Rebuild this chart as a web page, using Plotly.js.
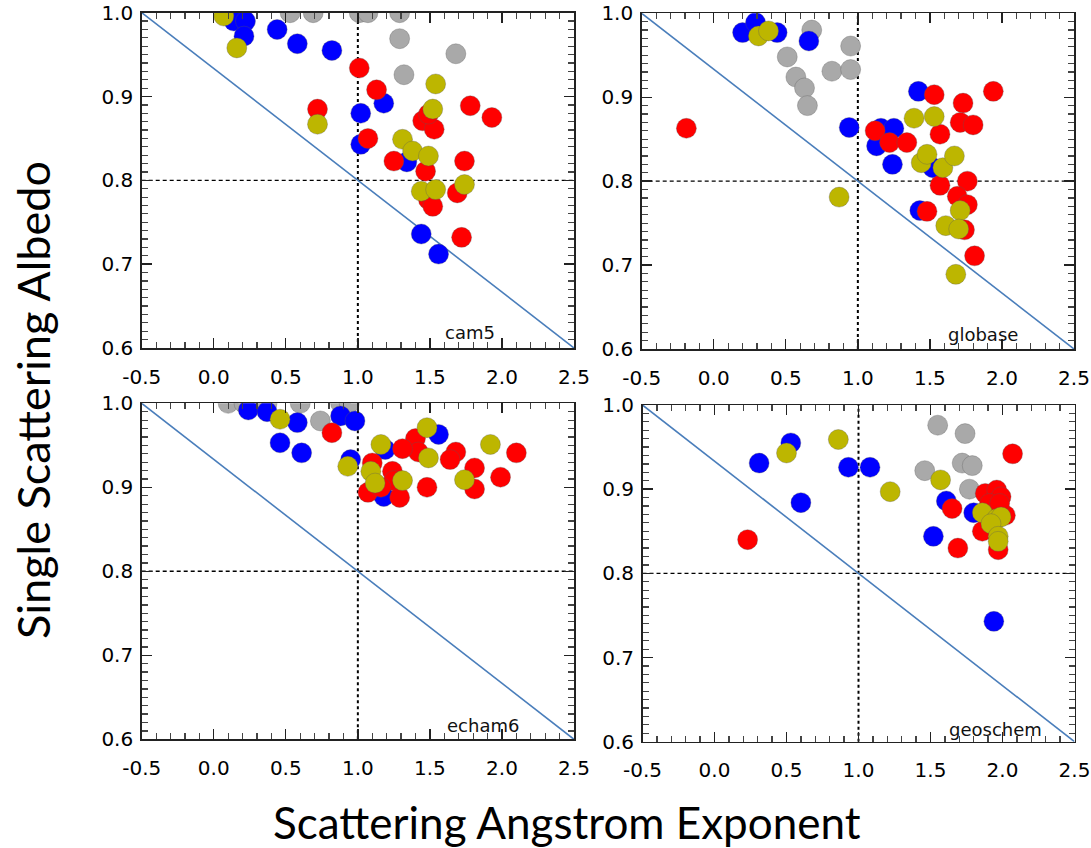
<!DOCTYPE html>
<html>
<head>
<meta charset="utf-8">
<script src="https://cdn.plot.ly/plotly-3.0.1.min.js"></script>
<style>
html,body{margin:0;padding:0;background:#fff;}
#chart{width:1091px;height:848px;}
</style>
</head>
<body>
<div id="chart"></div>
<script>
// ---------------- DATA ----------------
const panelNames = ["cam5", "globase", "echam6", "geoschem"];
const groupNames = ["gray", "blue", "red", "olive"];
const groupColors = ["#a9a9a9", "#0000ff", "#ff0000", "#bdb600"];

// cam5
const cam5_gray_x  = [0.53, 0.69, 1.01, 1.07, 1.29, 1.29, 1.68, 1.32];
const cam5_gray_y  = [1.000, 1.000, 1.000, 1.000, 1.000, 0.969, 0.951, 0.926];
const cam5_blue_x  = [0.14, 0.22, 0.21, 0.44, 0.58, 0.82, 1.02, 1.02, 1.18, 1.34, 1.44, 1.56];
const cam5_blue_y  = [0.990, 0.990, 0.972, 0.980, 0.963, 0.955, 0.880, 0.843, 0.892, 0.822, 0.736, 0.712];
const cam5_red_x   = [1.01, 1.13, 0.72, 1.07, 1.45, 1.53, 1.49, 1.78, 1.93, 1.25, 1.47, 1.74, 1.69, 1.49, 1.52, 1.72];
const cam5_red_y   = [0.934, 0.908, 0.885, 0.850, 0.871, 0.861, 0.879, 0.889, 0.875, 0.823, 0.811, 0.823, 0.785, 0.777, 0.769, 0.732];
const cam5_olive_x = [0.07, 0.16, 0.72, 1.54, 1.52, 1.31, 1.38, 1.49, 1.44, 1.54, 1.74];
const cam5_olive_y = [0.996, 0.958, 0.867, 0.915, 0.885, 0.849, 0.835, 0.829, 0.787, 0.789, 0.795];

// globase
const globase_gray_x  = [0.68, 0.95, 0.51, 0.57, 0.63, 0.65, 0.82, 0.95];
const globase_gray_y  = [0.980, 0.961, 0.948, 0.924, 0.911, 0.890, 0.931, 0.933];
const globase_blue_x  = [0.20, 0.29, 0.44, 0.66, 0.94, 1.42, 1.16, 1.25, 1.13, 1.24, 1.52, 1.43];
const globase_blue_y  = [0.977, 0.989, 0.977, 0.967, 0.864, 0.907, 0.863, 0.863, 0.842, 0.820, 0.816, 0.765];
const globase_red_x   = [-0.19, 1.53, 1.73, 1.94, 1.71, 1.80, 1.57, 1.12, 1.22, 1.34, 1.57, 1.76, 1.69, 1.76, 1.48, 1.74, 1.81];
const globase_red_y   = [0.863, 0.903, 0.893, 0.907, 0.870, 0.867, 0.856, 0.860, 0.846, 0.846, 0.795, 0.800, 0.782, 0.772, 0.764, 0.742, 0.711];
const globase_olive_x = [0.31, 0.38, 0.87, 1.39, 1.53, 1.44, 1.48, 1.59, 1.67, 1.71, 1.61, 1.70, 1.68];
const globase_olive_y = [0.973, 0.979, 0.781, 0.875, 0.877, 0.822, 0.832, 0.816, 0.830, 0.765, 0.747, 0.743, 0.689];

// echam6
const echam6_gray_x  = [0.10, 0.21, 0.37, 0.60, 0.88, 0.94, 0.74];
const echam6_gray_y  = [1.000, 1.000, 1.000, 1.000, 1.000, 1.000, 0.979];
const echam6_blue_x  = [0.24, 0.37, 0.58, 0.46, 0.61, 0.88, 0.98, 0.95, 1.56, 1.19, 1.18];
const echam6_blue_y  = [0.992, 0.990, 0.977, 0.953, 0.941, 0.985, 0.979, 0.933, 0.963, 0.945, 0.889];
const echam6_red_x   = [0.82, 1.40, 1.42, 1.31, 1.68, 1.64, 2.10, 1.10, 1.24, 1.25, 1.81, 1.99, 1.48, 1.07, 1.16, 1.29, 1.81];
const echam6_red_y   = [0.965, 0.958, 0.942, 0.946, 0.942, 0.933, 0.941, 0.929, 0.919, 0.908, 0.923, 0.912, 0.900, 0.894, 0.900, 0.888, 0.898];
const echam6_olive_x = [0.46, 1.48, 1.16, 1.49, 1.92, 0.93, 1.09, 1.12, 1.31, 1.74];
const echam6_olive_y = [0.981, 0.971, 0.951, 0.935, 0.951, 0.925, 0.919, 0.905, 0.908, 0.909];

// geoschem
const geoschem_gray_x  = [1.55, 1.74, 1.46, 1.72, 1.79, 1.77];
const geoschem_gray_y  = [0.976, 0.966, 0.922, 0.931, 0.928, 0.900];
const geoschem_blue_x  = [0.53, 0.31, 0.93, 1.08, 0.60, 1.61, 1.80, 1.52, 1.94];
const geoschem_blue_y  = [0.955, 0.931, 0.926, 0.926, 0.884, 0.886, 0.872, 0.844, 0.743];
const geoschem_red_x   = [0.23, 2.07, 1.88, 1.96, 1.99, 1.91, 2.02, 1.65, 1.86, 1.69, 1.97, 1.98];
const geoschem_red_y   = [0.840, 0.942, 0.895, 0.899, 0.891, 0.883, 0.869, 0.877, 0.850, 0.830, 0.828, 0.883];
const geoschem_olive_x = [0.86, 0.50, 1.57, 1.22, 1.86, 1.96, 1.99, 1.92, 1.97, 1.97];
const geoschem_olive_y = [0.959, 0.943, 0.911, 0.897, 0.872, 0.865, 0.867, 0.859, 0.844, 0.838];

// reference lines
const refLineX = [-0.5, 2.5];
const refLineY = [1.0, 0.6];
const vLineX = 1.0;
const hLineY = 0.8;

// axes
const xRange = [-0.5, 2.5];
const yRange = [0.6, 1.0];
const xMajorStep = 0.5, xMinorStep = 0.1;
const yMajorStep = 0.1, yMinorStep = 0.01;

const xTitle = "Scattering Angstrom Exponent";
const yTitle = "Single Scattering Albedo";

// ---------------- LAYOUT ----------------
const W = 1091, H = 848;
// panel boxes in pixels [left, right, top, bottom]
const boxes = [
  [141.7, 574.0, 12.7, 348.0],
  [641.7, 1074.0, 13.3, 349.0],
  [141.7, 574.0, 403.3, 739.3],
  [642.5, 1074.5, 405.0, 741.7]
];
const labelPos = [[1.78, 0.619], [1.87, 0.617], [1.87, 0.617], [1.95, 0.615]];

const dataSets = {
  cam5: {gray:[cam5_gray_x,cam5_gray_y], blue:[cam5_blue_x,cam5_blue_y], red:[cam5_red_x,cam5_red_y], olive:[cam5_olive_x,cam5_olive_y]},
  globase: {gray:[globase_gray_x,globase_gray_y], blue:[globase_blue_x,globase_blue_y], red:[globase_red_x,globase_red_y], olive:[globase_olive_x,globase_olive_y]},
  echam6: {gray:[echam6_gray_x,echam6_gray_y], blue:[echam6_blue_x,echam6_blue_y], red:[echam6_red_x,echam6_red_y], olive:[echam6_olive_x,echam6_olive_y]},
  geoschem: {gray:[geoschem_gray_x,geoschem_gray_y], blue:[geoschem_blue_x,geoschem_blue_y], red:[geoschem_red_x,geoschem_red_y], olive:[geoschem_olive_x,geoschem_olive_y]}
};

const tickFont = {family: "DejaVu Sans, sans-serif", size: 20, color: "#000"};
const xTitleFont = {family: "Lato, Open Sans, sans-serif", size: 44, color: "#000"};
const yTitleFont = {family: "Lato, Open Sans, sans-serif", size: 45, color: "#000"};

const traces = [];
const layout = {
  width: W, height: H,
  margin: {l: 0, r: 0, t: 0, b: 0},
  paper_bgcolor: "#fff",
  plot_bgcolor: "#fff",
  showlegend: false,
  shapes: [],
  annotations: []
};

panelNames.forEach((name, i) => {
  const n = i + 1;
  const xa = "x" + (n === 1 ? "" : n);
  const ya = "y" + (n === 1 ? "" : n);
  const xk = "xaxis" + (n === 1 ? "" : n);
  const yk = "yaxis" + (n === 1 ? "" : n);
  const b = boxes[i];

  // reference diagonal
  traces.push({
    x: refLineX, y: refLineY, xaxis: xa, yaxis: ya,
    mode: "lines", line: {color: "#4a7ebb", width: 1.6},
    hoverinfo: "skip", cliponaxis: true
  });

  groupNames.forEach((g, gi) => {
    const d = dataSets[name][g];
    traces.push({
      x: d[0], y: d[1], xaxis: xa, yaxis: ya,
      mode: "markers", type: "scatter",
      marker: {symbol: "circle", size: 20, color: groupColors[gi],
               line: {width: 0.6, color: "rgba(90,90,90,0.55)"}},
      cliponaxis: true,
      name: g
    });
  });

  const common = {
    showgrid: false, zeroline: false,
    showline: true, linecolor: "#222", linewidth: 1.5,
    mirror: "ticks", ticks: "inside", ticklen: 10, tickwidth: 1.4, tickcolor: "#222",
    tickfont: tickFont, fixedrange: true, tickformat: ".1f",
    ticklabeloverflow: "allow",
    labelalias: {"\u22120.5": "-0.5"}
  };
  layout[xk] = Object.assign({}, common, {
    domain: [b[0] / W, b[1] / W],
    range: xRange, anchor: ya,
    tickmode: "linear", tick0: 0, dtick: xMajorStep,
    ticklabelstandoff: 10,
    minor: {tickmode: "linear", tick0: 0, dtick: xMinorStep, ticks: "inside", ticklen: 6, tickwidth: 1.2, tickcolor: "#444", showgrid: false}
  });
  layout[yk] = Object.assign({}, common, {
    domain: [1 - b[3] / H, 1 - b[2] / H],
    range: yRange, anchor: xa,
    tickmode: "linear", tick0: 0, dtick: yMajorStep,
    ticklabelstandoff: 3,
    minor: {tickmode: "linear", tick0: 0, dtick: yMinorStep, ticks: "inside", ticklen: 6, tickwidth: 1.2, tickcolor: "#444", showgrid: false}
  });

  // dotted vertical at x=1, dashed horizontal at y=0.8
  layout.shapes.push({
    type: "line", xref: xa, yref: ya, x0: vLineX, x1: vLineX, y0: yRange[0], y1: yRange[1],
    line: {color: "#000", width: 2, dash: "dot"}, layer: "below"
  });
  layout.shapes.push({
    type: "line", xref: xa, yref: ya, x0: xRange[0], x1: xRange[1], y0: hLineY, y1: hLineY,
    line: {color: "#000", width: 1.4, dash: "4px,3px"}, layer: "below"
  });

  layout.annotations.push({
    xref: xa, yref: ya, x: labelPos[i][0], y: labelPos[i][1],
    text: name, showarrow: false,
    font: {family: "DejaVu Sans, sans-serif", size: 18, color: "#111"}
  });
});

layout.annotations.push({
  xref: "paper", yref: "paper", x: 567 / W, y: 1 - 822 / H,
  text: xTitle, showarrow: false, font: xTitleFont,
  xanchor: "center", yanchor: "middle"
});
layout.annotations.push({
  xref: "paper", yref: "paper", x: 33 / W, y: 1 - 400 / H,
  text: yTitle, showarrow: false, font: yTitleFont, textangle: -90,
  xanchor: "center", yanchor: "middle"
});

Plotly.newPlot("chart", traces, layout, {staticPlot: true, displayModeBar: false});
</script>
</body>
</html>
